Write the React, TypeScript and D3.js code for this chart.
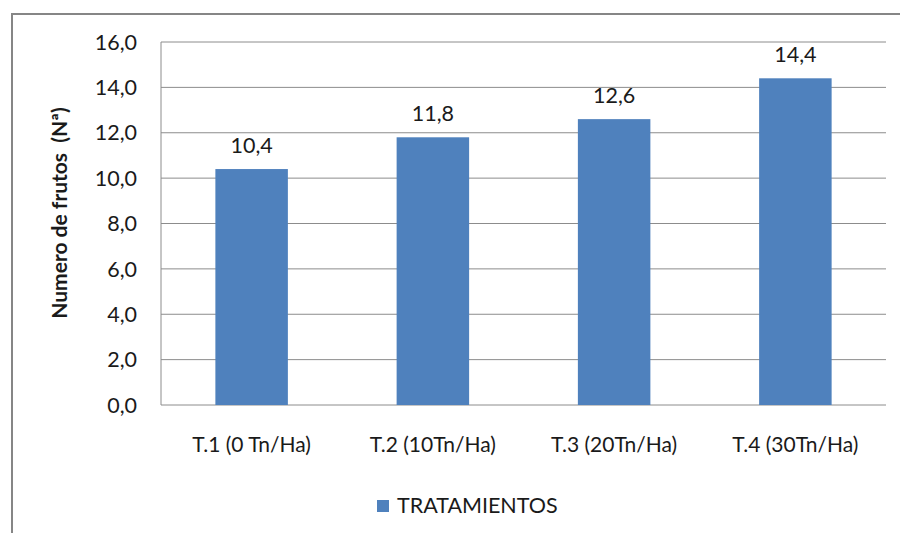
import React from "react";
import * as d3 from "d3";

const categories = ["T.1 (0 Tn/Ha)", "T.2 (10Tn/Ha)", "T.3 (20Tn/Ha)", "T.4 (30Tn/Ha)"];
const values = [10.4, 11.8, 12.6, 14.4];
const yTicks = [0, 2, 4, 6, 8, 10, 12, 14, 16];
const seriesName = "TRATAMIENTOS";
const yTitle = "Numero de frutos  (Nª)";

const W = 900, H = 533;
const plot = { left: 161, right: 886, top: 42, bottom: 405 };
const font = "Lato, 'Open Sans', sans-serif";
const fmt = (v: number) => v.toFixed(1).replace(".", ",");

export default function App() {
  const x = d3.scaleBand<string>().domain(categories).range([plot.left, plot.right]).paddingInner(0.6).paddingOuter(0.3);
  const y = d3.scaleLinear().domain([0, 16]).range([plot.bottom, plot.top]);
  return (
    <svg width={W} height={H} style={{ position: "absolute", left: 0, top: 0 }} fontFamily={font}>
      <rect x={0} y={0} width={W} height={H} fill="#fff" />
      <path d={`M12,${H + 5} V14 H${W + 5}`} fill="none" stroke="#868686" strokeWidth={2} />
      {yTicks.map((t) => (
        <g key={t}>
          <line x1={plot.left} x2={plot.right} y1={y(t)} y2={y(t)} stroke="#8c8c8c" strokeWidth={1} />
          <text x={137} y={y(t)} dy="0.36em" textAnchor="end" fontSize={21.5} fill="#1a1a1a">{fmt(t)}</text>
        </g>
      ))}
      <line x1={plot.left} x2={plot.left} y1={plot.top} y2={plot.bottom} stroke="#8c8c8c" />
      {categories.map((c, i) => (
        <g key={c}>
          <rect x={x(c)} y={y(values[i])} width={x.bandwidth()} height={y(0) - y(values[i])} fill="#4F81BD" />
          <text x={x(c)! + x.bandwidth() / 2} y={y(values[i]) - 16} textAnchor="middle" fontSize={21.5} fill="#1a1a1a">{fmt(values[i])}</text>
          <text x={x(c)! + x.bandwidth() / 2} y={452} textAnchor="middle" fontSize={21} fill="#1a1a1a">{c}</text>
        </g>
      ))}
      <text transform={`translate(67,213) rotate(-90)`} textAnchor="middle" fontSize={21} fontWeight="bold" fill="#1a1a1a" style={{ whiteSpace: "pre" }}>{yTitle}</text>
      <rect x={377} y={500} width={12} height={12} fill="#4F81BD" />
      <text x={397} y={513} fontSize={21.5} fill="#1a1a1a">{seriesName}</text>
    </svg>
  );
}
